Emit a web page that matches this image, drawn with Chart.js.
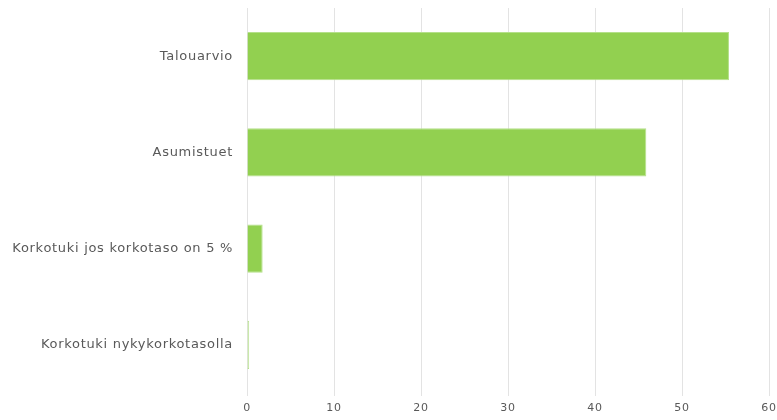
<!DOCTYPE html>
<html>
<head>
<meta charset="utf-8">
<script src="https://cdn.jsdelivr.net/npm/chart.js@4"></script>
<style>
  html, body { margin: 0; padding: 0; background: #fff; }
  #wrap { width: 777px; height: 420px; }
</style>
</head>
<body>
<div id="wrap"><canvas id="chart"></canvas></div>
<script>
// kategoriat ja arvot (luettu kuvasta)
const categories = ['Talouarvio', 'Asumistuet', 'Korkotuki jos korkotaso on 5 %', 'Korkotuki nykykorkotasolla']
const values = [55.4, 45.9, 1.8, 0.25]
const barColors = ['#92d050', '#92d050', '#92d050', '#c5e8a3']
const xTicks = [0, 10, 20, 30, 40, 50, 60]

const ctx = document.getElementById('chart').getContext('2d')

// leveämpi kirjainväli, lähemmäs alkuperäistä fonttia
const spacing = {
  id: 'spacing',
  beforeDraw: (chart) => { chart.ctx.letterSpacing = '0.7px' }
}

new Chart(ctx, {
  type: 'bar',
  data: {
    labels: categories,
    datasets: [{
      data: values,
      backgroundColor: barColors,
      borderColor: '#b5e08a',
      borderWidth: 1,
      categoryPercentage: 0.5,
      barPercentage: 1
    }]
  },
  options: {
    indexAxis: 'y',
    responsive: true,
    maintainAspectRatio: false,
    animation: false,
    layout: { padding: { top: 8, right: 8, bottom: 0, left: 0 } },
    plugins: { legend: { display: false }, tooltip: { enabled: false } },
    scales: {
      x: {
        min: xTicks[0],
        max: xTicks[xTicks.length - 1],
        afterBuildTicks: (s) => { s.ticks = xTicks.map(v => ({ value: v })) },
        afterFit: (s) => { s.height = 27; s.paddingRight = 0; s.paddingLeft = 0 },
        border: { display: false },
        grid: { color: '#e3e3e3', lineWidth: 1, drawTicks: true, tickLength: 3 },
        ticks: { color: '#595959', font: { family: 'DejaVu Sans', size: 11 }, padding: 6 }
      },
      y: {
        afterFit: (s) => { s.width = 247; s.paddingTop = 0; s.paddingBottom = 0 },
        border: { display: false },
        grid: { display: false, drawTicks: false },
        ticks: { color: '#595959', font: { family: 'DejaVu Sans', size: 13 }, padding: 14 }
      }
    }
  },
  plugins: [spacing]
})
</script>
</body>
</html>
